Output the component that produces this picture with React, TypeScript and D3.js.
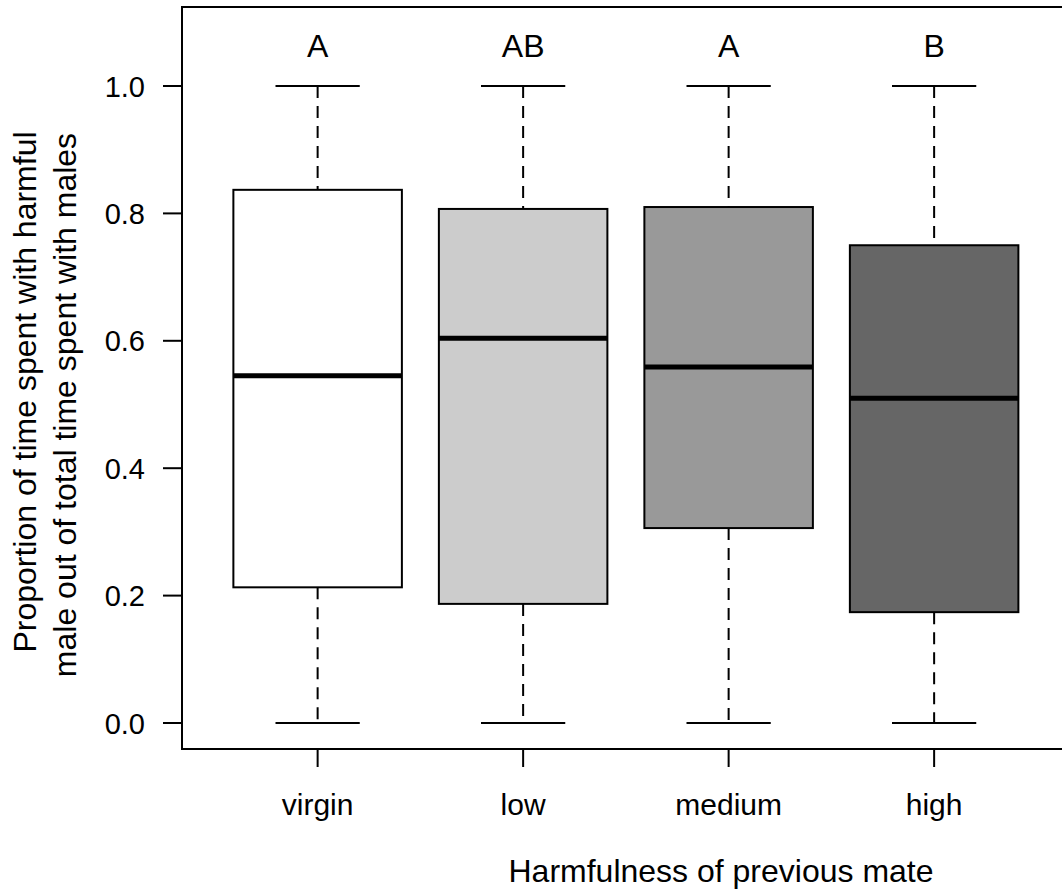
import React from "react";
import * as d3 from "d3";

const categories = ["virgin", "low", "medium", "high"];
const lowerWhisker = [0, 0, 0, 0];
const q1 = [0.213, 0.187, 0.306, 0.174];
const medians = [0.545, 0.604, 0.559, 0.51];
const q3 = [0.837, 0.807, 0.81, 0.75];
const upperWhisker = [1, 1, 1, 1];
const fills = ["#FFFFFF", "#CCCCCC", "#999999", "#666666"];
const letters = ["A", "AB", "A", "B"];
const yTicks = [0, 0.2, 0.4, 0.6, 0.8, 1.0];

const W = 1062;
const H = 893;
const frameLeft = 182;
const frameTop = 7;
const frameBottom = 749;

export default function App() {
  const x = d3.scaleLinear().domain([0.34, 4.66]).range([frameLeft, frameLeft + 4.32 * 205.5]);
  const y = d3.scaleLinear().domain([0, 1]).range([723, 86]);
  const boxHalf = x(1.41) - x(1);
  const capHalf = boxHalf / 2;
  const font = "'Liberation Sans', Arial, Helvetica, sans-serif";
  const frameRight = x(4.66);

  return (
    <svg width={W} height={H} style={{ position: "absolute", left: 0, top: 0, background: "#fff" }} fontFamily={font}>
      <rect x={0} y={0} width={W} height={H} fill="#fff" />
      {categories.map((c, i) => {
        const cx = x(i + 1);
        return (
          <g key={c}>
            <line x1={cx} x2={cx} y1={y(upperWhisker[i])} y2={y(q3[i])} stroke="#000" strokeWidth={2} strokeDasharray="12,8" />
            <line x1={cx} x2={cx} y1={y(q1[i])} y2={y(lowerWhisker[i])} stroke="#000" strokeWidth={2} strokeDasharray="12,8" />
            <line x1={cx - capHalf} x2={cx + capHalf} y1={y(upperWhisker[i])} y2={y(upperWhisker[i])} stroke="#000" strokeWidth={2} />
            <line x1={cx - capHalf} x2={cx + capHalf} y1={y(lowerWhisker[i])} y2={y(lowerWhisker[i])} stroke="#000" strokeWidth={2} />
            <rect x={cx - boxHalf} y={y(q3[i])} width={2 * boxHalf} height={y(q1[i]) - y(q3[i])} fill={fills[i]} stroke="#000" strokeWidth={2} />
            <line x1={cx - boxHalf} x2={cx + boxHalf} y1={y(medians[i])} y2={y(medians[i])} stroke="#000" strokeWidth={5} />
            <text x={cx} y={57} textAnchor="middle" fontSize={32} fill="#000">{letters[i]}</text>
            <line x1={cx} x2={cx} y1={frameBottom} y2={767} stroke="#000" strokeWidth={2} />
            <text x={cx} y={815} textAnchor="middle" fontSize={30} fill="#000">{c}</text>
          </g>
        );
      })}
      <rect x={frameLeft} y={frameTop} width={frameRight - frameLeft} height={frameBottom - frameTop} fill="none" stroke="#000" strokeWidth={2} />
      {yTicks.map((t) => (
        <g key={t}>
          <line x1={163} x2={frameLeft} y1={y(t)} y2={y(t)} stroke="#000" strokeWidth={2} />
          <text x={145} y={y(t) + 10.5} textAnchor="end" fontSize={29} fill="#000">{t.toFixed(1)}</text>
        </g>
      ))}
      <text x={721} y={882} textAnchor="middle" fontSize={32} fill="#000">Harmfulness of previous mate</text>
      <text transform={`translate(36,392) rotate(-90)`} textAnchor="middle" fontSize={32} fill="#000">Proportion of time spent with harmful</text>
      <text transform={`translate(76,405) rotate(-90)`} textAnchor="middle" fontSize={32} fill="#000">male out of total time spent with males</text>
    </svg>
  );
}
